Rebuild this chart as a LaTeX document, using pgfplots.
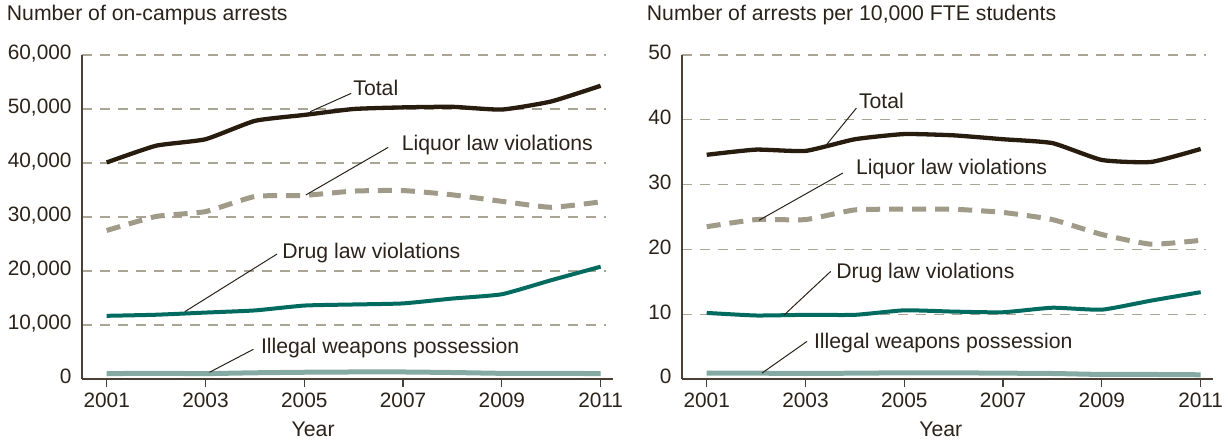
\documentclass[border=0pt]{standalone}
\usepackage{pgfplots}
\pgfplotsset{compat=1.18}
\usepackage{fontspec}
\setmainfont{Liberation Sans}
\definecolor{txt}{HTML}{2B2219}
\definecolor{axc}{HTML}{4A4036}
\definecolor{gridc}{HTML}{ABA595}
\definecolor{totc}{HTML}{281C0F}
\definecolor{liqc}{HTML}{A09A88}
\definecolor{drugc}{HTML}{006B5E}
\definecolor{weapc}{HTML}{85AAA3}
\tikzset{
 lbl/.style={anchor=base west, inner sep=0pt, font=\fontsize{21.3}{24}\selectfont, text=txt},
 lead/.style={draw=txt, line width=1bp},
}
\pgfplotsset{
 panel/.style={
  scale only axis, width=523.9bp, height=324bp,
  xmin=2000.494, xmax=2011.1,
  axis x line*=bottom, axis y line*=left,
  x axis line style={-, color=axc, line width=1.6bp, shorten >=-7.5bp},
  y axis line style={-, color=axc, line width=1.6bp},
  xtick={2001,2003,2005,2007,2009,2011},
  xticklabels={2001,2003,2005,2007,2009,2011},
  scaled y ticks=false,
  tick align=outside, major tick length=8bp,
  x tick style={color=axc, line width=1.2bp},
  y tick style={draw=none},
  ymajorgrids,
  major grid style={color=gridc, line width=1.3bp, dash pattern=on 10bp off 8bp},
  every tick label/.append style={font=\fontsize{20.9}{24}\selectfont, text=txt},
  xticklabel style={inner sep=0pt, anchor=north, text height=14.8bp, text depth=0pt, yshift=-5.7bp},
  yticklabel style={inner sep=0pt, anchor=east, text height=14.8bp, text depth=0pt, xshift=-2bp, yshift=2.5bp},
  xlabel={Year},
  xlabel style={font=\fontsize{21.3}{24}\selectfont, text=txt, inner sep=0pt, anchor=base, yshift=-57.7bp},
  clip=false,
  every axis plot/.append style={smooth, tension=0.3, line join=round},
 },
}
\begin{document}
\begin{tikzpicture}
\useasboundingbox (0,0) rectangle (1230bp,445bp);
\node[anchor=base west, inner sep=0pt, font=\fontsize{21.3}{24}\selectfont, text=txt] at (6.7bp,424.3bp) {Number of on-campus arrests};
\node[anchor=base west, inner sep=0pt, font=\fontsize{21.3}{24}\selectfont, text=txt] at (646.7bp,424.3bp) {Number of arrests per 10,000 FTE students};

\begin{axis}[panel, at={(81.7bp,66bp)}, anchor=south west,
  ymin=0, ymax=60000, ytick={0,10000,20000,30000,40000,50000,60000},
  yticklabels={0,{10,000},{20,000},{30,000},{40,000},{50,000},{60,000}},
  xlabel style={at={(axis description cs:0.4418,0)}}]
\addplot[color=weapc, line width=5bp] coordinates {(2001,1000)(2002,1050)(2003,1000)(2004,1150)(2005,1250)(2006,1300)(2007,1300)(2008,1200)(2009,1050)(2010,1050)(2011,1000)};
\addplot[color=drugc, line width=4bp] coordinates {(2001,11700)(2002,11900)(2003,12300)(2004,12700)(2005,13600)(2006,13800)(2007,14000)(2008,14900)(2009,15700)(2010,18300)(2011,20800)};
\addplot[color=liqc, line width=5bp, dash pattern=on 14bp off 9bp] coordinates {(2001,27500)(2002,30100)(2003,31000)(2004,33800)(2005,34000)(2006,34800)(2007,34900)(2008,34100)(2009,32900)(2010,31800)(2011,32800)};
\addplot[color=totc, line width=4.3bp] coordinates {(2001,40100)(2002,43200)(2003,44400)(2004,47800)(2005,48900)(2006,50000)(2007,50300)(2008,50400)(2009,49900)(2010,51400)(2011,54300)};
\draw[lead] (axis cs:2005.12,49500) -- (axis cs:2005.95,52900);
\node[lbl] at (axis cs:2005.99,52590) {Total};
\draw[lead] (axis cs:2005.03,34070) -- (axis cs:2006.70,42900);
\node[lbl] at (axis cs:2006.97,42400) {Liquor law violations};
\draw[lead] (axis cs:2002.58,12460) -- (axis cs:2004.45,23150);
\node[lbl] at (axis cs:2004.55,22400) {Drug law violations};
\draw[lead] (axis cs:2003.08,1240) -- (axis cs:2003.97,5500);
\node[lbl] at (axis cs:2004.12,4810) {Illegal weapons possession};
\end{axis}

\begin{axis}[panel, at={(681.7bp,66bp)}, anchor=south west,
  ymin=0, ymax=50, ytick={0,10,20,30,40,50},
  yticklabels={0,10,20,30,40,50},
  xlabel style={at={(axis description cs:0.4946,0)}}]
\addplot[color=weapc, line width=5bp] coordinates {(2001,0.9)(2002,0.9)(2003,0.85)(2004,0.9)(2005,0.95)(2006,0.95)(2007,0.9)(2008,0.85)(2009,0.7)(2010,0.7)(2011,0.65)};
\addplot[color=drugc, line width=4bp] coordinates {(2001,10.2)(2002,9.8)(2003,9.9)(2004,9.9)(2005,10.6)(2006,10.4)(2007,10.3)(2008,11.0)(2009,10.7)(2010,12.1)(2011,13.4)};
\addplot[color=liqc, line width=5bp, dash pattern=on 14bp off 9bp] coordinates {(2001,23.5)(2002,24.6)(2003,24.6)(2004,26.1)(2005,26.2)(2006,26.2)(2007,25.7)(2008,24.6)(2009,22.3)(2010,20.8)(2011,21.4)};
\addplot[color=totc, line width=4.3bp] coordinates {(2001,34.6)(2002,35.4)(2003,35.2)(2004,37.0)(2005,37.8)(2006,37.6)(2007,37.0)(2008,36.4)(2009,33.8)(2010,33.5)(2011,35.5)};
\draw[lead] (axis cs:2003.43,36.2) -- (axis cs:2004.03,41.8);
\node[lbl] at (axis cs:2004.08,41.8) {Total};
\draw[lead] (axis cs:2002.06,24.5) -- (axis cs:2003.76,31.8);
\node[lbl] at (axis cs:2004.02,31.5) {Liquor law violations};
\draw[lead] (axis cs:2002.57,9.9) -- (axis cs:2003.51,16.6);
\node[lbl] at (axis cs:2003.62,15.5) {Drug law violations};
\draw[lead] (axis cs:2002.12,0.92) -- (axis cs:2003.03,5.8);
\node[lbl] at (axis cs:2003.17,4.77) {Illegal weapons possession};
\end{axis}
\end{tikzpicture}
\end{document}
